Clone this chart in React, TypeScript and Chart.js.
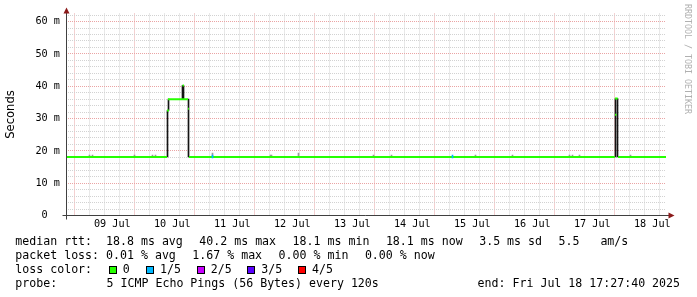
import React, { useEffect, useRef } from 'react';
import { Chart, registerables } from 'chart.js';

Chart.register(...registerables);

// hours relative to 09 Jul 00:00
const X_MIN = -6.539; // 08 Jul 17:27:40
const X_MAX = 233.461; // 18 Jul 17:27:40
const Y_MAX = 62.5;

const dayLabels = ['09 Jul', '10 Jul', '11 Jul', '12 Jul', '13 Jul', '14 Jul', '15 Jul', '16 Jul', '17 Jul', '18 Jul'];
const yLabelValues = [0, 10, 20, 30, 40, 50, 60];
const yLabels = ['0  ', '10 m', '20 m', '30 m', '40 m', '50 m', '60 m'];

// median rtt (ms), loss 0 — null breaks the line
const medianTimes = [-6.539, 33.861, 34.0, 34.261, 42.261, 42.4, 42.661, 213.0, 213.03, 213.061, 214.161, 214.2, 214.261, 233.461];
const medianValues = [18.1, 18.1, null, 36.0, 36.0, null, 18.1, 18.1, null, 36.2, 36.2, null, 18.1, 18.1];

// short median pieces overlapping the above
const medianExtraTimes = [33.861, 34.661, 34.7, 40.061, 40.661, 40.7, 42.261, 42.661, 42.7, 213.061, 213.661];
const medianExtraValues = [32.5, 32.5, null, 40.2, 40.2, null, 33.0, 33.0, null, 31.2, 31.2];

// dark smoke (ping spread)
const smokeTimes = [34.061, 34.461, 40.061, 40.461, 42.461, 213.261, 214.061];
const smokeLow = [18.1, 32.5, 36.0, 36.0, 18.1, 18.1, 18.1];
const smokeHigh = [32.5, 36.0, 40.2, 40.2, 36.0, 36.2, 36.2];

// faint smoke just above the median
const faintTimes = [2.861, 4.061, 20.861, 28.061, 29.261, 52.061, 75.261, 75.661, 86.461, 116.461, 123.661, 157.261, 172.061, 194.861, 196.061, 198.861, 219.261];
const faintLow = [18.1, 18.1, 18.1, 18.1, 18.1, 18.1, 18.1, 18.1, 18.1, 18.1, 18.1, 18.1, 18.1, 18.1, 18.1, 18.1, 18.1];
const faintHigh = [18.7, 18.7, 18.7, 18.7, 18.7, 19.3, 18.7, 18.7, 19.3, 18.7, 18.7, 18.7, 18.7, 18.7, 18.7, 18.7, 18.7];

// median with 1/5 loss
const loss1Times = [52.061, 148.061];
const loss1Low = [17.8, 17.8];
const loss1High = [18.7, 18.7];

const lossColors = ['#26ff00', '#00b8ff', '#c800ff', '#5a00ff', '#ff0000'];
const lossNames = ['0', '1/5', '2/5', '3/5', '4/5'];

const MINOR = '#d2d2d2';
const MAJOR = '#eaa4a4';
const AXIS = '#404040';
const ARROW = '#8b1a1a';

const axisPlugin = {
  id: 'rrdAxes',
  afterDraw(chart: any) {
    const { ctx, chartArea } = chart;
    const x0 = Math.round(chartArea.left) + 0.5;
    const y0 = Math.floor(chartArea.bottom) + 0.5;
    ctx.save();
    ctx.strokeStyle = AXIS;
    ctx.lineWidth = 1;
    ctx.beginPath();
    ctx.moveTo(x0, y0 + 4);
    ctx.lineTo(x0, chartArea.top - 2);
    ctx.moveTo(x0 - 4, y0);
    ctx.lineTo(chartArea.right + 3, y0);
    ctx.stroke();
    ctx.fillStyle = ARROW;
    ctx.beginPath();
    ctx.moveTo(x0, chartArea.top - 6);
    ctx.lineTo(x0 - 3, chartArea.top);
    ctx.lineTo(x0 + 3, chartArea.top);
    ctx.closePath();
    ctx.fill();
    ctx.beginPath();
    ctx.moveTo(chartArea.right + 8.5, y0);
    ctx.lineTo(chartArea.right + 2.5, y0 - 3);
    ctx.lineTo(chartArea.right + 2.5, y0 + 3);
    ctx.closePath();
    ctx.fill();
    ctx.restore();
  },
};

const mono = 'DejaVu Sans Mono';

type Item = [number, string];
const row1: Item[] = [[15.3, 'median rtt:  18.8 ms avg'], [199.3, '40.2 ms max'], [292.6, '18.1 ms min'], [385.9, '18.1 ms now'], [479.2, '3.5 ms sd'], [558.5, '5.5   am/s']];
const row2: Item[] = [[15.3, 'packet loss: 0.01 % avg'], [192.3, '1.67 % max'], [278.6, '0.00 % min'], [364.9, '0.00 % now']];
const row4: Item[] = [[15.3, 'probe:'], [106.6, '5 ICMP Echo Pings (56 Bytes) every 120s'], [477.6, 'end: Fri Jul 18 17:27:40 2025']];
const squareX = [108.7, 146, 196.7, 247.3, 298];
const rowTops = [234, 248, 262, 276];

export default function App() {
  const ref = useRef<HTMLCanvasElement>(null);
  useEffect(() => {
    document.body.style.margin = '0';
    const toXY = (ts: number[], vs: (number | null)[]) => ts.map((t, i) => ({ x: t, y: vs[i] }));
    const toBars = (ts: number[], lo: number[], hi: number[]) => ts.map((t, i) => ({ x: t, y: [lo[i], hi[i]] }));
    const chart = new Chart(ref.current as HTMLCanvasElement, {
      type: 'line',
      data: {
        datasets: [
          {
            type: 'bar', data: toBars(loss1Times, loss1Low, loss1High) as any, backgroundColor: lossColors[1],
            barThickness: 1, grouped: false, order: 0,
          } as any,
          {
            type: 'line', data: toXY(medianExtraTimes, medianExtraValues) as any, borderColor: lossColors[0],
            borderWidth: 2, pointRadius: 0, spanGaps: false, borderCapStyle: 'butt', order: 1,
          },
          {
            type: 'line', data: toXY(medianTimes, medianValues) as any, borderColor: lossColors[0],
            borderWidth: 2, pointRadius: 0, spanGaps: false, borderCapStyle: 'butt', order: 2,
          },
          {
            type: 'bar', data: toBars(smokeTimes, smokeLow, smokeHigh) as any, backgroundColor: '#141414',
            barThickness: 1, grouped: false, order: 3,
          } as any,
          {
            type: 'bar', data: toBars(faintTimes, faintLow, faintHigh) as any, backgroundColor: '#9a9a9a',
            barThickness: 1, grouped: false, order: 4,
          } as any,
        ],
      },
      options: {
        animation: false,
        responsive: false,
        events: [],
        layout: { padding: { left: 0, top: 13.5, right: 31, bottom: 61.5 } },
        plugins: { legend: { display: false }, tooltip: { enabled: false } },
        scales: {
          x: {
            type: 'linear', min: X_MIN, max: X_MAX, offset: false,
            afterBuildTicks: (s: any) => {
              const t = [];
              for (let v = -6; v <= X_MAX; v += 6) t.push({ value: v });
              s.ticks = t;
            },
            afterFit: (s: any) => { s.height = 20; },
            grid: {
              drawTicks: false, lineWidth: 1,
              color: (c: any) => (c.tick && c.tick.value % 24 === 0 ? MAJOR : MINOR),
            },
            border: { display: false, dash: [1, 1] },
            ticks: {
              autoSkip: false, maxRotation: 0, padding: 3, color: '#000',
              font: { family: mono, size: 10.2, lineHeight: 1.2 },
              callback: (v: any) => {
                const i = (Number(v) - 12) / 24;
                return Number.isInteger(i) && dayLabels[i] ? dayLabels[i] : '';
              },
            },
          },
          y: {
            type: 'linear', min: 0, max: Y_MAX,
            afterBuildTicks: (s: any) => {
              const t = [];
              for (let v = 0; v <= 62; v += 2) t.push({ value: v });
              s.ticks = t;
            },
            afterFit: (s: any) => { s.width = 66; },
            grid: {
              drawTicks: false, lineWidth: 1,
              color: (c: any) => (c.tick && c.tick.value % 10 === 0 ? MAJOR : MINOR),
            },
            border: { display: false, dash: [1, 1] },
            title: {
              display: true, text: 'Seconds', color: '#000',
              font: { family: 'DejaVu Sans', size: 11.6, lineHeight: 1.2 }, padding: { top: 4, bottom: 0 },
            },
            ticks: {
              autoSkip: false, padding: 6, color: '#000',
              font: { family: mono, size: 10.2, lineHeight: 1.2 },
              callback: (v: any) => {
                const i = yLabelValues.indexOf(Number(v));
                return i >= 0 ? yLabels[i] : '';
              },
            },
          },
        },
      } as any,
      plugins: [axisPlugin],
    });
    return () => chart.destroy();
  }, []);

  const textStyle = (left: number, top: number): React.CSSProperties => ({
    position: 'absolute', left, top, fontFamily: mono, fontSize: 11.6, lineHeight: '14px',
    whiteSpace: 'pre', color: '#000',
  });

  return (
    <div style={{ position: 'fixed', left: 0, top: 0, width: 697, height: 297, background: '#fff', overflow: 'hidden' }}>
      <canvas ref={ref} width={697} height={297} style={{ position: 'absolute', left: 0, top: 0 }} />
      {row1.map(([x, s], i) => <span key={'a' + i} style={textStyle(x, rowTops[0])}>{s}</span>)}
      {row2.map(([x, s], i) => <span key={'b' + i} style={textStyle(x, rowTops[1])}>{s}</span>)}
      <span style={textStyle(15.3, rowTops[2])}>loss color:</span>
      {lossNames.map((n, i) => (
        <React.Fragment key={'c' + i}>
          <span style={{
            position: 'absolute', left: squareX[i], top: rowTops[2] + 3.5, width: 8, height: 8,
            boxSizing: 'border-box', border: '1px solid #000', background: lossColors[i],
          }} />
          <span style={textStyle(squareX[i] + 14, rowTops[2])}>{n}</span>
        </React.Fragment>
      ))}
      {row4.map(([x, s], i) => <span key={'d' + i} style={textStyle(x, rowTops[3])}>{s}</span>)}
      <div style={{
        position: 'absolute', left: 682.5, top: 4, writingMode: 'vertical-rl', fontFamily: mono,
        fontSize: 8.3, lineHeight: '9px', color: '#b0b0b0', whiteSpace: 'pre',
      }}>RRDTOOL / TOBI OETIKER</div>
    </div>
  );
}
